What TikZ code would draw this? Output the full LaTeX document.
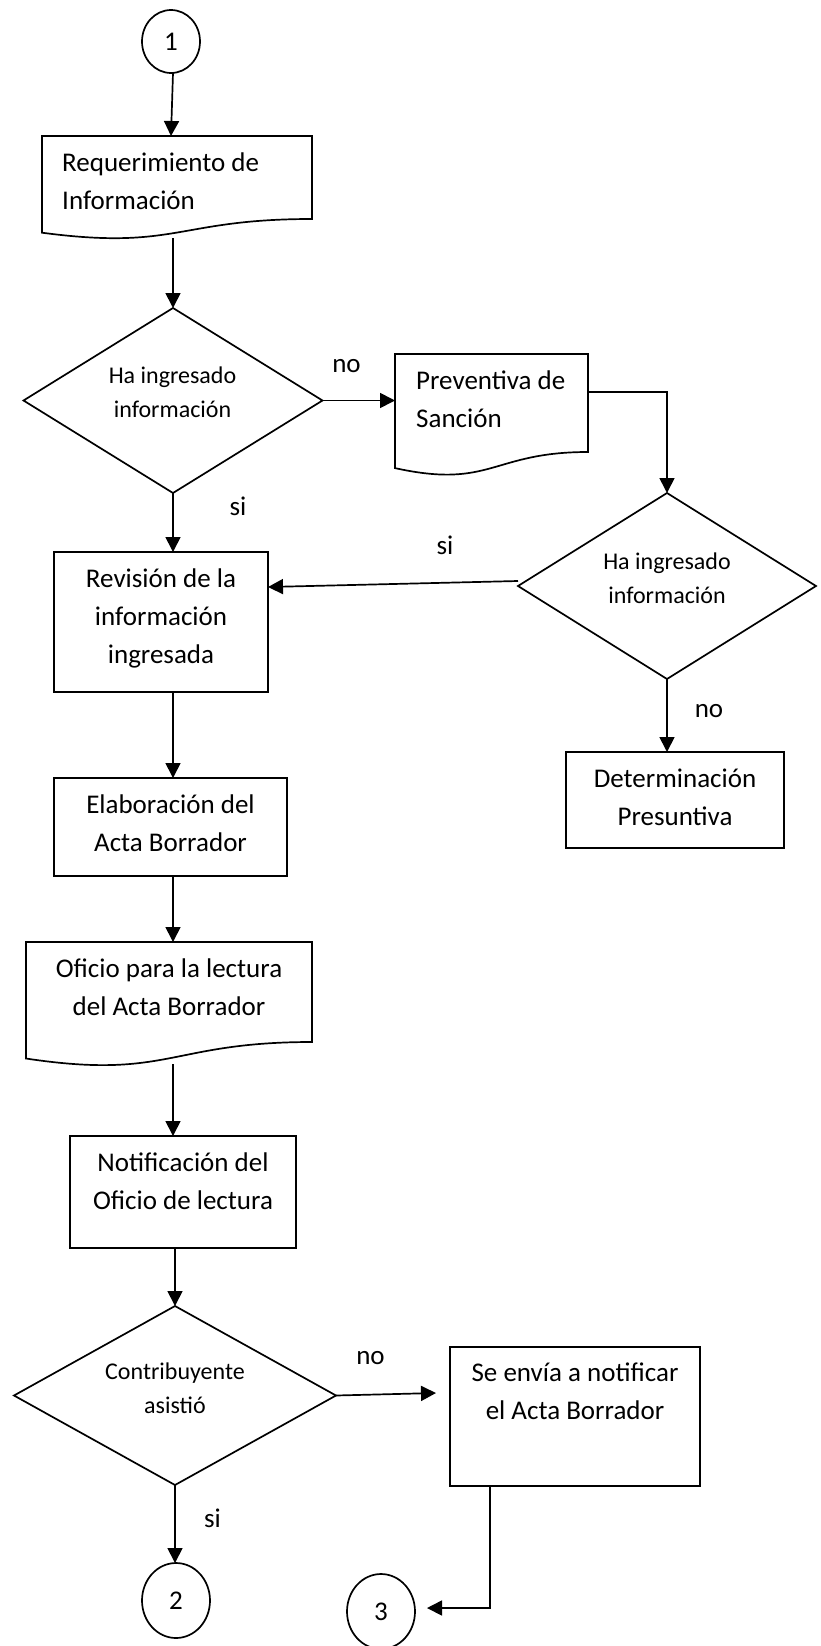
\documentclass[tikz,border=0pt]{standalone}
\usepackage{fontspec}
\setmainfont{Carlito}
\usetikzlibrary{arrows.meta,calc,shapes.geometric}
\tikzset{
  thickline/.style={line width=1.7pt},
  procbox/.style={draw, line width=1.7pt, inner sep=0pt, outer sep=0pt},
  docrect/.style={inner sep=0pt, outer sep=0pt},
  decision/.style={diamond, draw, line width=1.7pt, inner sep=0pt, outer sep=0pt},
  conn/.style={ellipse, draw, line width=1.7pt, inner sep=0pt, outer sep=0pt, font=\fontsize{27}{38}\selectfont},
  boxtext/.style={inner sep=0pt, align=center, font=\fontsize{27}{38}\selectfont, execute at begin node=\strut, execute at end node=\strut},
  dectext/.style={inner sep=0pt, align=center, font=\fontsize{24}{34}\selectfont, execute at begin node=\strut, execute at end node=\strut},
  lbl/.style={inner sep=0pt, font=\fontsize{27}{38}\selectfont},
  arr/.style={draw, line width=1.7pt, -{Triangle[length=15pt,width=15pt]}},
}
\newcommand{\mydoc}[3]{\draw[thickline] (#1.north west) -- (#1.north east) -- (#1.south east) .. controls (#1.south) and ($(#1.south)+(0,#2)$) .. ($(#1.south west)+(0,#3)$) -- cycle;}
\begin{document}
\begin{tikzpicture}[x=1pt,y=-1pt]
\useasboundingbox (0,0) rectangle (821,1646);
% nodes
\node[conn, minimum width=58pt, minimum height=63pt] (c1) at (171,41.5) {\raisebox{-3pt}{1}};
\node[docrect, minimum width=270pt, minimum height=83pt] (doc1) at (177,177.5) {};
\node[boxtext, align=left, anchor=west] (doc1txt) at (62,187) {Requerimiento de\\Información};
\node[decision, minimum width=299pt, minimum height=185pt] (d1) at (173,400.5) {};
\node[dectext] (d1txt) at (172.5,397) {Ha ingresado\\información};
\node[docrect, minimum width=193pt, minimum height=98pt] (prev) at (491.5,403) {};
\node[boxtext, align=left, anchor=west] (prevtxt) at (416,404.5) {Preventiva de\\Sanción};
\node[decision, minimum width=298pt, minimum height=186pt] (d2) at (667,586) {};
\node[dectext] (d2txt) at (667,583) {Ha ingresado\\información};
\node[procbox, minimum width=214pt, minimum height=140pt] (rev) at (161,622) {};
\node[boxtext] (revtxt) at (161,622) {Revisión de la\\información\\ingresada};
\node[procbox, minimum width=218pt, minimum height=96pt] (det) at (675,800) {};
\node[boxtext] (dettxt) at (675,802.5) {Determinación\\Presuntiva};
\node[procbox, minimum width=233pt, minimum height=98pt] (elab) at (170.5,827) {};
\node[boxtext] (elabtxt) at (170.5,828.5) {Elaboración del\\Acta Borrador};
\node[docrect, minimum width=286pt, minimum height=100pt] (ofi) at (169,992) {};
\node[boxtext] (ofitxt) at (169,993) {Oficio para la lectura\\del Acta Borrador};
\node[procbox, minimum width=226pt, minimum height=112pt] (notif) at (183,1192) {};
\node[boxtext] (notiftxt) at (183,1187) {Notificación del\\Oficio de lectura};
\node[decision, minimum width=322pt, minimum height=179pt] (d3) at (175,1395.5) {};
\node[dectext] (d3txt) at (175,1393.5) {Contribuyente\\asistió};
\node[procbox, minimum width=250pt, minimum height=139pt] (se) at (575,1416.5) {};
\node[boxtext] (setxt) at (575,1397) {Se envía a notificar\\el Acta Borrador};
\node[conn, minimum width=68pt, minimum height=75pt] (c2) at (176,1600.5) {2};
\node[conn, minimum width=68pt, minimum height=75pt] (c3) at (381,1611.5) {3};
% document shapes
\mydoc{doc1}{31.6}{13.7}
\mydoc{prev}{37.3}{16.1}
\mydoc{ofi}{38.1}{16.5}
% labels
\node[lbl] (no1) at (346.5,366) {no};
\node[lbl] (si1) at (238,506) {si};
\node[lbl] (si2) at (445,545) {si};
\node[lbl] (no2) at (709,711) {no};
\node[lbl] (no3) at (370.5,1358) {no};
\node[lbl] (si3) at (212.5,1518) {si};
% connection points
\coordinate (c1b) at ([xshift=2pt]c1.south);
\coordinate (doc1b) at ($(d1.north |- doc1.south)+(0,19)$);
\coordinate (revb) at (rev.south -| d1.south);
\coordinate (elabin) at (elab.north -| d1.south);
\coordinate (elabb) at (elab.south -| d1.south);
\coordinate (ofiin) at (ofi.north -| d1.south);
\coordinate (ofib) at ($(ofi.south -| d1.south)+(0,22)$);
\coordinate (notifin) at (notif.north -| d1.south);
\coordinate (notifb) at (notif.south -| d3.north);
\coordinate (prevr) at ([yshift=11pt]prev.east);
\coordinate (revr) at ([yshift=35pt]rev.east);
\coordinate (d2l) at ([yshift=5pt]d2.west);
\coordinate (sein) at ($(se.west)+(-14,-23.5)$);
\coordinate (seb1) at ($(se.south west)+(105,0)$);
\coordinate (seb2) at ($(se.south west)+(40,0)$);
\coordinate (c3in) at ($(c3.east)+(12,-3.5)$);
% connectors
\draw[arr] (c1b) -- (c1.south |- doc1.north);
\draw[arr] (doc1b) -- (d1.north);
\draw[arr] (d1.east) -- (d1.east -| prev.west);
\draw[arr] (prevr) -| (d2.north);
\draw[arr] (d1.south) -- (d1.south |- rev.north);
\draw[arr] (d2l) -- (revr);
\draw[arr] (d2.south) -- (d2.south |- det.north);
\draw[arr] (revb) -- (elabin);
\draw[arr] (elabb) -- (ofiin);
\draw[arr] (ofib) -- (notifin);
\draw[arr] (notifb) -- (d3.north);
\draw[arr] (d3.east) -- (sein);
\draw[arr] (d3.south) -- (d3.south |- c2.north);
\draw[arr] (seb1) -- (seb2) |- (c3in);
\end{tikzpicture}
\end{document}
